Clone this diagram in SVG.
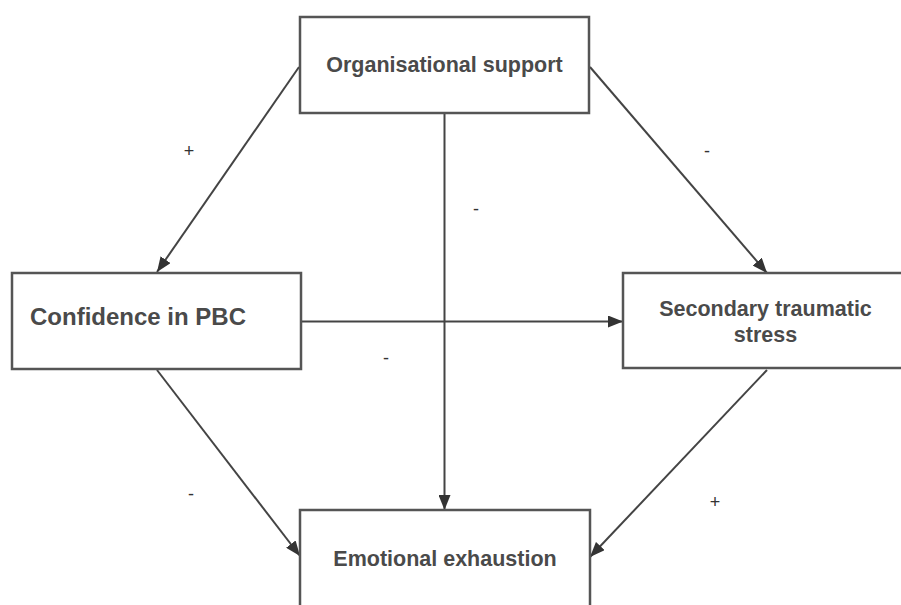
<svg xmlns="http://www.w3.org/2000/svg" width="901" height="605" viewBox="0 0 901 605">
  <defs>
    <marker id="arrow" markerUnits="userSpaceOnUse" markerWidth="16" markerHeight="12" refX="15" refY="6" orient="auto">
      <path d="M0,0 L15,6 L0,12 z" fill="#333333"/>
    </marker>
    <style>
      .box { fill: #ffffff; stroke: #555555; stroke-width: 2.5; }
      .lbl { font-family: "Liberation Sans", Arial, sans-serif; font-weight: bold; fill: #4a4a4a; font-size: 21.5px; }
      .edge { fill: none; stroke: #444444; stroke-width: 2; marker-end: url(#arrow); }
      .sign { font-family: "Liberation Sans", Arial, sans-serif; fill: #333333; font-size: 18px; text-anchor: middle; }
    </style>
  </defs>
  <rect width="901" height="605" fill="#ffffff"/>

  <g id="connectors">
    <line class="edge" x1="299" y1="67" x2="157" y2="272"/>
    <line class="edge" x1="590" y1="67" x2="767" y2="273"/>
    <line class="edge" x1="444.5" y1="113" x2="444.5" y2="510"/>
    <line class="edge" x1="301" y1="321.5" x2="623" y2="321.5"/>
    <line class="edge" x1="157" y1="370" x2="300" y2="556"/>
    <line class="edge" x1="767" y1="370" x2="590" y2="557"/>
  </g>

  <g id="signs">
    <text class="sign" x="189" y="157">+</text>
    <text class="sign" x="707" y="156.5">-</text>
    <text class="sign" x="476" y="214.5">-</text>
    <text class="sign" x="386" y="363.5">-</text>
    <text class="sign" x="191" y="499.5">-</text>
    <text class="sign" x="715" y="508">+</text>
  </g>

  <g id="organisational-support">
    <rect class="box" x="300" y="17" width="289" height="96"/>
    <text class="lbl" x="444.5" y="72" text-anchor="middle">Organisational support</text>
  </g>

  <g id="confidence-in-pbc">
    <rect class="box" x="12" y="273" width="289" height="96"/>
    <text class="lbl" x="30" y="325" style="font-size:24px">Confidence in PBC</text>
  </g>

  <g id="secondary-traumatic-stress">
    <rect class="box" x="623" y="273" width="300" height="95"/>
    <text class="lbl" x="765.5" y="316" text-anchor="middle">Secondary traumatic</text>
    <text class="lbl" x="765.5" y="342" text-anchor="middle">stress</text>
  </g>

  <g id="emotional-exhaustion">
    <rect class="box" x="300" y="510" width="290" height="110"/>
    <text class="lbl" x="445" y="566" text-anchor="middle">Emotional exhaustion</text>
  </g>
</svg>
